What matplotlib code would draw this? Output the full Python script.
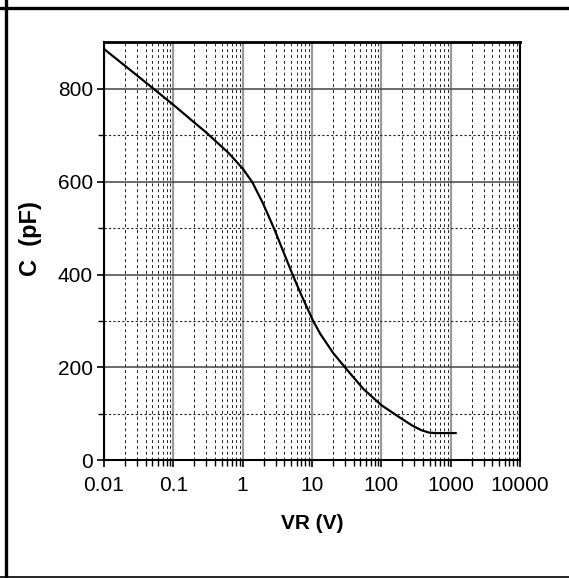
import numpy as np
import matplotlib.pyplot as plt
from matplotlib.lines import Line2D
from matplotlib.ticker import LogLocator, FixedLocator, NullFormatter

# Capacitance vs reverse voltage
vr = [0.01, 0.03, 0.1, 0.2, 0.3, 0.62, 1, 1.37, 1.95, 2.83, 5.24, 7, 10.4,
      13.2, 20, 30, 55, 100, 155, 200, 280, 380, 490, 600, 1180]
cap = [885, 828, 765, 727, 705, 662, 628, 599, 554, 499, 400, 356, 300,
       272, 232, 200, 154, 119, 100, 89, 75, 65, 60, 59, 59]

x_ticks = [0.01, 0.1, 1, 10, 100, 1000, 10000]
x_labels = ["0.01", "0.1", "1", "10", "100", "1000", "10000"]
y_ticks = [0, 200, 400, 600, 800]

plt.rcParams['font.family'] = ['Liberation Sans', 'DejaVu Sans']

fig = plt.figure(figsize=(5.69, 5.78), dpi=100)
ax = fig.add_axes([0.1828, 0.2033, 0.7311, 0.724])

ax.plot(vr, cap, color="black", lw=1.6, zorder=5)

ax.set_xscale("log")
ax.set_xlim(0.01, 10000)
ax.set_ylim(0, 900)

ax.xaxis.set_major_locator(FixedLocator(x_ticks))
ax.set_xticklabels(x_labels)
ax.xaxis.set_minor_locator(LogLocator(base=10, subs=np.arange(2, 10), numticks=20))
ax.xaxis.set_minor_formatter(NullFormatter())
ax.yaxis.set_major_locator(FixedLocator(y_ticks))
ax.yaxis.set_minor_locator(FixedLocator([100, 300, 500, 700]))

# grid
ax.grid(which="major", axis="x", color="#999999", lw=1.6, ls="-")
ax.grid(which="major", axis="y", color="#444444", lw=1.1, ls="-")
ax.grid(which="minor", axis="x", color="#222222", lw=0.7, ls=(0, (3, 3)))
ax.grid(which="minor", axis="y", color="#222222", lw=0.8, ls=(0, (2, 2)))
ax.set_axisbelow(True)

ax.tick_params(axis="y", which="major", direction="out", length=5, width=1.2,
               color="black", labelsize=15, pad=3)
ax.tick_params(axis="x", which="major", direction="out", length=5, width=1.2,
               color="black", labelsize=15, pad=6)
ax.tick_params(which="minor", direction="out", length=4, width=1.0, color="black")

for sp in ax.spines.values():
    sp.set_color("black")
    sp.set_linewidth(1.5)
ax.spines["top"].set_linewidth(2)

ax.set_xlabel("VR (V)", fontsize=15, fontweight="bold")
ax.set_ylabel("C  (pF)", fontsize=17, fontweight="bold")
ax.xaxis.set_label_coords(0.5, -0.128)
ax.yaxis.set_label_coords(-0.148, 0.53)

# outer table border
fig.add_artist(Line2D([0, 1], [1 - 7.5 / 578, 1 - 7.5 / 578], color="black", lw=2.4,
                      transform=fig.transFigure))
fig.add_artist(Line2D([6.2 / 569, 6.2 / 569], [0, 1], color="black", lw=2.4,
                      transform=fig.transFigure))
fig.add_artist(Line2D([0, 1], [1.2 / 578, 1.2 / 578], color="black", lw=1.2,
                      transform=fig.transFigure))

fig.savefig("out.png", dpi=100)
